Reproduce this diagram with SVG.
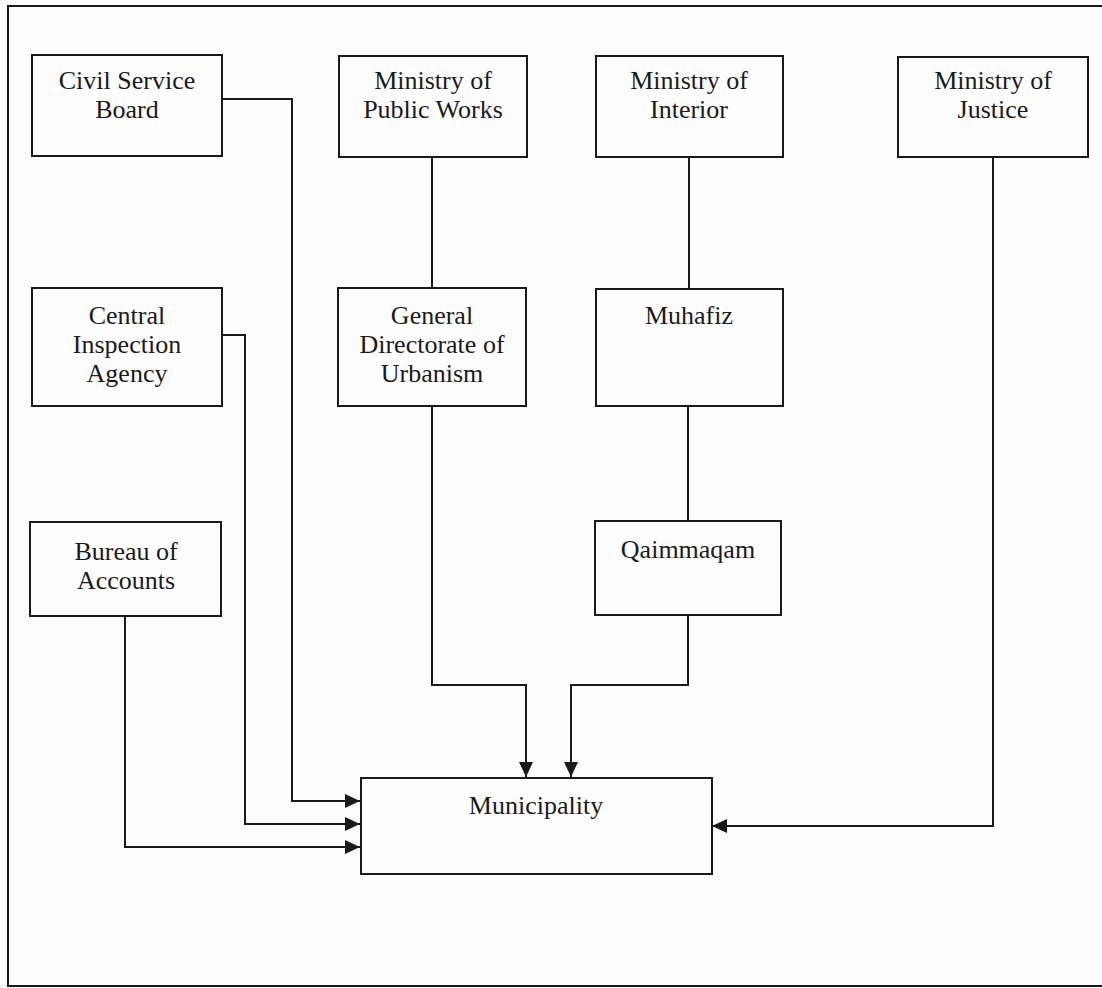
<svg xmlns="http://www.w3.org/2000/svg" width="1102" height="988" viewBox="0 0 1102 988">
<style>
.box{fill:none;stroke:#1a1a1a;stroke-width:2}
.lbl{font-family:"Liberation Serif","Times New Roman",serif;font-size:26px;fill:#1a1a1a;text-anchor:middle}
.con{fill:none;stroke:#1a1a1a;stroke-width:2}
.arr{marker-end:url(#ah)}
</style>
<defs>
<marker id="ah" markerUnits="userSpaceOnUse" markerWidth="16" markerHeight="14" refX="15" refY="7" orient="auto">
<path d="M0,0 L15,7 L0,14 z" fill="#1a1a1a"/>
</marker>
</defs>
<rect x="0" y="0" width="1102" height="988" fill="#fdfdfd"/>
<path d="M1102,6 L8,6 L8,986 L1102,986" fill="none" stroke="#1a1a1a" stroke-width="2"/>
<g id="connectors">
<polyline class="con arr" points="222,99 292,99 292,801 360,801"/>
<polyline class="con arr" points="221,335 245,335 245,824 360,824"/>
<polyline class="con arr" points="125,616 125,847 360,847"/>
<line class="con" x1="432" y1="157" x2="432" y2="289"/>
<polyline class="con arr" points="432,406 432,685 526,685 526,777"/>
<line class="con" x1="689" y1="157" x2="689" y2="289"/>
<line class="con" x1="688" y1="406" x2="688" y2="521"/>
<polyline class="con arr" points="688,615 688,685 571,685 571,777"/>
<polyline class="con arr" points="993,157 993,826 712,826"/>
</g>
<g id="civil-service-board">
<rect class="box" x="32" y="55" width="190" height="101"/>
<text class="lbl" x="127" y="89">Civil Service</text>
<text class="lbl" x="127" y="118">Board</text>
</g>
<g id="ministry-public-works">
<rect class="box" x="339" y="56" width="188" height="101"/>
<text class="lbl" x="433" y="89">Ministry of</text>
<text class="lbl" x="433" y="118">Public Works</text>
</g>
<g id="ministry-interior">
<rect class="box" x="596" y="56" width="187" height="101"/>
<text class="lbl" x="689" y="89">Ministry of</text>
<text class="lbl" x="689" y="118">Interior</text>
</g>
<g id="ministry-justice">
<rect class="box" x="898" y="57" width="190" height="100"/>
<text class="lbl" x="993" y="89">Ministry of</text>
<text class="lbl" x="993" y="118">Justice</text>
</g>
<g id="central-inspection-agency">
<rect class="box" x="32" y="288" width="190" height="118"/>
<text class="lbl" x="127" y="324">Central</text>
<text class="lbl" x="127" y="353">Inspection</text>
<text class="lbl" x="127" y="382">Agency</text>
</g>
<g id="general-directorate-urbanism">
<rect class="box" x="338" y="288" width="188" height="118"/>
<text class="lbl" x="432" y="324">General</text>
<text class="lbl" x="432" y="353">Directorate of</text>
<text class="lbl" x="432" y="382">Urbanism</text>
</g>
<g id="muhafiz">
<rect class="box" x="596" y="289" width="187" height="117"/>
<text class="lbl" x="689" y="324">Muhafiz</text>
</g>
<g id="bureau-of-accounts">
<rect class="box" x="30" y="522" width="191" height="94"/>
<text class="lbl" x="126" y="560">Bureau of</text>
<text class="lbl" x="126" y="589">Accounts</text>
</g>
<g id="qaimmaqam">
<rect class="box" x="595" y="521" width="186" height="94"/>
<text class="lbl" x="688" y="558">Qaimmaqam</text>
</g>
<g id="municipality">
<rect class="box" x="361" y="778" width="351" height="96"/>
<text class="lbl" x="536" y="814">Municipality</text>
</g>
</svg>
